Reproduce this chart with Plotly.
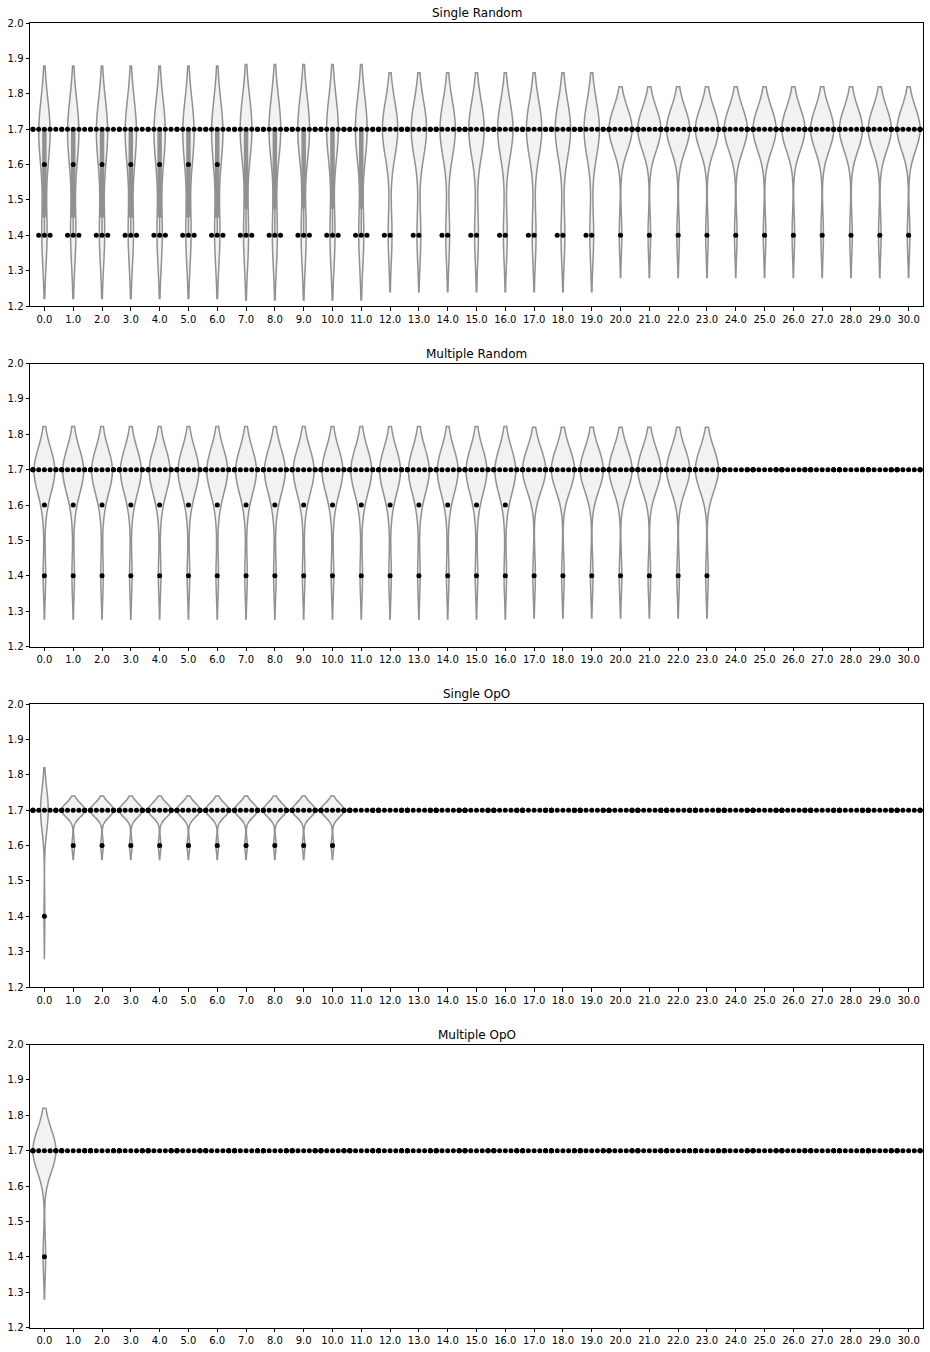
import numpy as np
import plotly.graph_objects as go

# ---------------- data ----------------
categories = [float(i) for i in range(31)]
levels = [1.4, 1.6, 1.7]
y_ticks = [1.2, 1.3, 1.4, 1.5, 1.6, 1.7, 1.8, 1.9, 2.0]
titles = ["Single Random", "Multiple Random", "Single OpO", "Multiple OpO"]

# number of observations at 1.4 / 1.6 / 1.7 for each category
single_random_14 = [3, 3, 3, 3, 3, 3, 3, 3, 3, 3, 3, 3, 2, 2, 2, 2, 2, 2, 2, 2, 1, 1, 1, 1, 1, 1, 1, 1, 1, 1, 1]
single_random_16 = [1, 1, 1, 1, 1, 1, 1, 0, 0, 0, 0, 0, 0, 0, 0, 0, 0, 0, 0, 0, 0, 0, 0, 0, 0, 0, 0, 0, 0, 0, 0]
single_random_17 = [6, 6, 6, 6, 6, 6, 6, 7, 7, 7, 7, 7, 8, 8, 8, 8, 8, 8, 8, 8, 9, 9, 9, 9, 9, 9, 9, 9, 9, 9, 9]

multiple_random_14 = [1, 1, 1, 1, 1, 1, 1, 1, 1, 1, 1, 1, 1, 1, 1, 1, 1, 1, 1, 1, 1, 1, 1, 1, 0, 0, 0, 0, 0, 0, 0]
multiple_random_16 = [1, 1, 1, 1, 1, 1, 1, 1, 1, 1, 1, 1, 1, 1, 1, 1, 1, 0, 0, 0, 0, 0, 0, 0, 0, 0, 0, 0, 0, 0, 0]
multiple_random_17 = [8, 8, 8, 8, 8, 8, 8, 8, 8, 8, 8, 8, 8, 8, 8, 8, 8, 9, 9, 9, 9, 9, 9, 9, 10, 10, 10, 10, 10, 10, 10]

single_opo_14 = [1, 0, 0, 0, 0, 0, 0, 0, 0, 0, 0, 0, 0, 0, 0, 0, 0, 0, 0, 0, 0, 0, 0, 0, 0, 0, 0, 0, 0, 0, 0]
single_opo_16 = [0, 1, 1, 1, 1, 1, 1, 1, 1, 1, 1, 0, 0, 0, 0, 0, 0, 0, 0, 0, 0, 0, 0, 0, 0, 0, 0, 0, 0, 0, 0]
single_opo_17 = [9, 9, 9, 9, 9, 9, 9, 9, 9, 9, 9, 10, 10, 10, 10, 10, 10, 10, 10, 10, 10, 10, 10, 10, 10, 10, 10, 10, 10, 10, 10]

multiple_opo_14 = [1, 0, 0, 0, 0, 0, 0, 0, 0, 0, 0, 0, 0, 0, 0, 0, 0, 0, 0, 0, 0, 0, 0, 0, 0, 0, 0, 0, 0, 0, 0]
multiple_opo_16 = [0, 0, 0, 0, 0, 0, 0, 0, 0, 0, 0, 0, 0, 0, 0, 0, 0, 0, 0, 0, 0, 0, 0, 0, 0, 0, 0, 0, 0, 0, 0]
multiple_opo_17 = [9, 10, 10, 10, 10, 10, 10, 10, 10, 10, 10, 10, 10, 10, 10, 10, 10, 10, 10, 10, 10, 10, 10, 10, 10, 10, 10, 10, 10, 10, 10]

panels = [
    (single_random_14, single_random_16, single_random_17),
    (multiple_random_14, multiple_random_16, multiple_random_17),
    (single_opo_14, single_opo_16, single_opo_17),
    (multiple_opo_14, multiple_opo_16, multiple_opo_17),
]

# ---------------- style / layout ----------------
W, H = 930, 1352
L, R, T, B = 30, 7, 23, 24
PANEL_H = 283.0
PANEL_STEP = 340.5
PAPER_H = H - T - B
PLOT_W = W - L - R
X_RANGE = [-0.5, 30.5]
PX_PER_CAT = PLOT_W / (X_RANGE[1] - X_RANGE[0])
VIOLIN_W = 0.8
SWARM_D = 5.7 / PX_PER_CAT
FILL = "#f2f2f2"
GRAY = "#919191"
FONT = "DejaVu Sans"

fig = go.Figure()
annotations = []
layout_axes = {}

for p, (c14, c16, c17) in enumerate(panels):
    suffix = "" if p == 0 else str(p + 1)
    xname, yname = "x" + suffix, "y" + suffix
    top_px = T + PANEL_STEP * p
    bot_px = top_px + PANEL_H
    dom = [(H - B - bot_px) / PAPER_H, (H - B - top_px) / PAPER_H]

    sx, sy = [], []
    for i, cat in enumerate(categories):
        vals = np.repeat(levels, [c14[i], c16[i], c17[i]]).astype(float)
        if np.ptp(vals) > 0:
            bw = vals.std(ddof=1) * len(vals) ** (-0.2)
            fig.add_trace(go.Violin(
                x=[cat] * len(vals), y=vals, xaxis=xname, yaxis=yname,
                scalegroup="panel%d" % p, scalemode="width",
                bandwidth=bw, spanmode="soft", points=False,
                box_visible=False, meanline_visible=False,
                fillcolor=FILL, line=dict(color=GRAY, width=1.5),
                hoverinfo="skip", showlegend=False,
            ))
            q1, q2, q3 = np.percentile(vals, [25, 50, 75])
            iqr = q3 - q1
            lo = vals[vals >= q1 - 1.5 * iqr].min()
            hi = vals[vals <= q3 + 1.5 * iqr].max()
            if hi > lo:
                fig.add_trace(go.Scatter(x=[cat, cat], y=[lo, hi], mode="lines",
                                         line=dict(color=GRAY, width=1.5),
                                         xaxis=xname, yaxis=yname,
                                         hoverinfo="skip", showlegend=False))
            if q3 > q1:
                fig.add_trace(go.Scatter(x=[cat, cat], y=[q1, q3], mode="lines",
                                         line=dict(color=GRAY, width=4.5),
                                         xaxis=xname, yaxis=yname,
                                         hoverinfo="skip", showlegend=False))
            fig.add_trace(go.Scatter(x=[cat], y=[q2], mode="markers",
                                     marker=dict(color="white", size=3,
                                                 line=dict(color=GRAY, width=1)),
                                     xaxis=xname, yaxis=yname,
                                     hoverinfo="skip", showlegend=False))
        # swarm positions
        for lev, cnt in zip(levels, [c14[i], c16[i], c17[i]]):
            for k in range(cnt):
                step = (k + 1) // 2
                sign = -1 if k % 2 == 1 else 1
                off = sign * step * SWARM_D
                off = max(-VIOLIN_W / 2, min(VIOLIN_W / 2, off))
                sx.append(cat + off)
                sy.append(lev)

    fig.add_trace(go.Scatter(x=sx, y=sy, mode="markers", xaxis=xname, yaxis=yname,
                             marker=dict(color="black", size=5, line=dict(width=0)),
                             hoverinfo="skip", showlegend=False))

    axis_common = dict(showline=True, mirror=True, linecolor="black", linewidth=1,
                       ticks="outside", ticklen=3.5, tickwidth=0.8, tickcolor="black",
                       showgrid=False, zeroline=False,
                       tickfont=dict(size=10, color="black", family=FONT))
    layout_axes["xaxis" + suffix] = dict(
        domain=[0, 1], anchor=yname, range=X_RANGE,
        tickmode="array", tickvals=categories,
        ticktext=["%.1f" % c for c in categories], **axis_common)
    layout_axes["yaxis" + suffix] = dict(
        domain=dom, anchor=xname, range=[y_ticks[0], y_ticks[-1]],
        tickmode="array", tickvals=y_ticks,
        ticktext=["%.1f" % t for t in y_ticks], **axis_common)
    annotations.append(dict(text=titles[p], x=0.5, y=dom[1], xref="paper", yref="paper",
                            xanchor="center", yanchor="bottom", yshift=1, showarrow=False,
                            font=dict(size=12, color="black", family=FONT)))

fig.update_layout(
    width=W, height=H,
    margin=dict(l=L, r=R, t=T, b=B, pad=0),
    paper_bgcolor="white", plot_bgcolor="white",
    violinmode="overlay", violingap=0.2, violingroupgap=0,
    showlegend=False,
    font=dict(family=FONT, size=10, color="black"),
    annotations=annotations,
    **layout_axes,
)

fig.write_html("out.html")
